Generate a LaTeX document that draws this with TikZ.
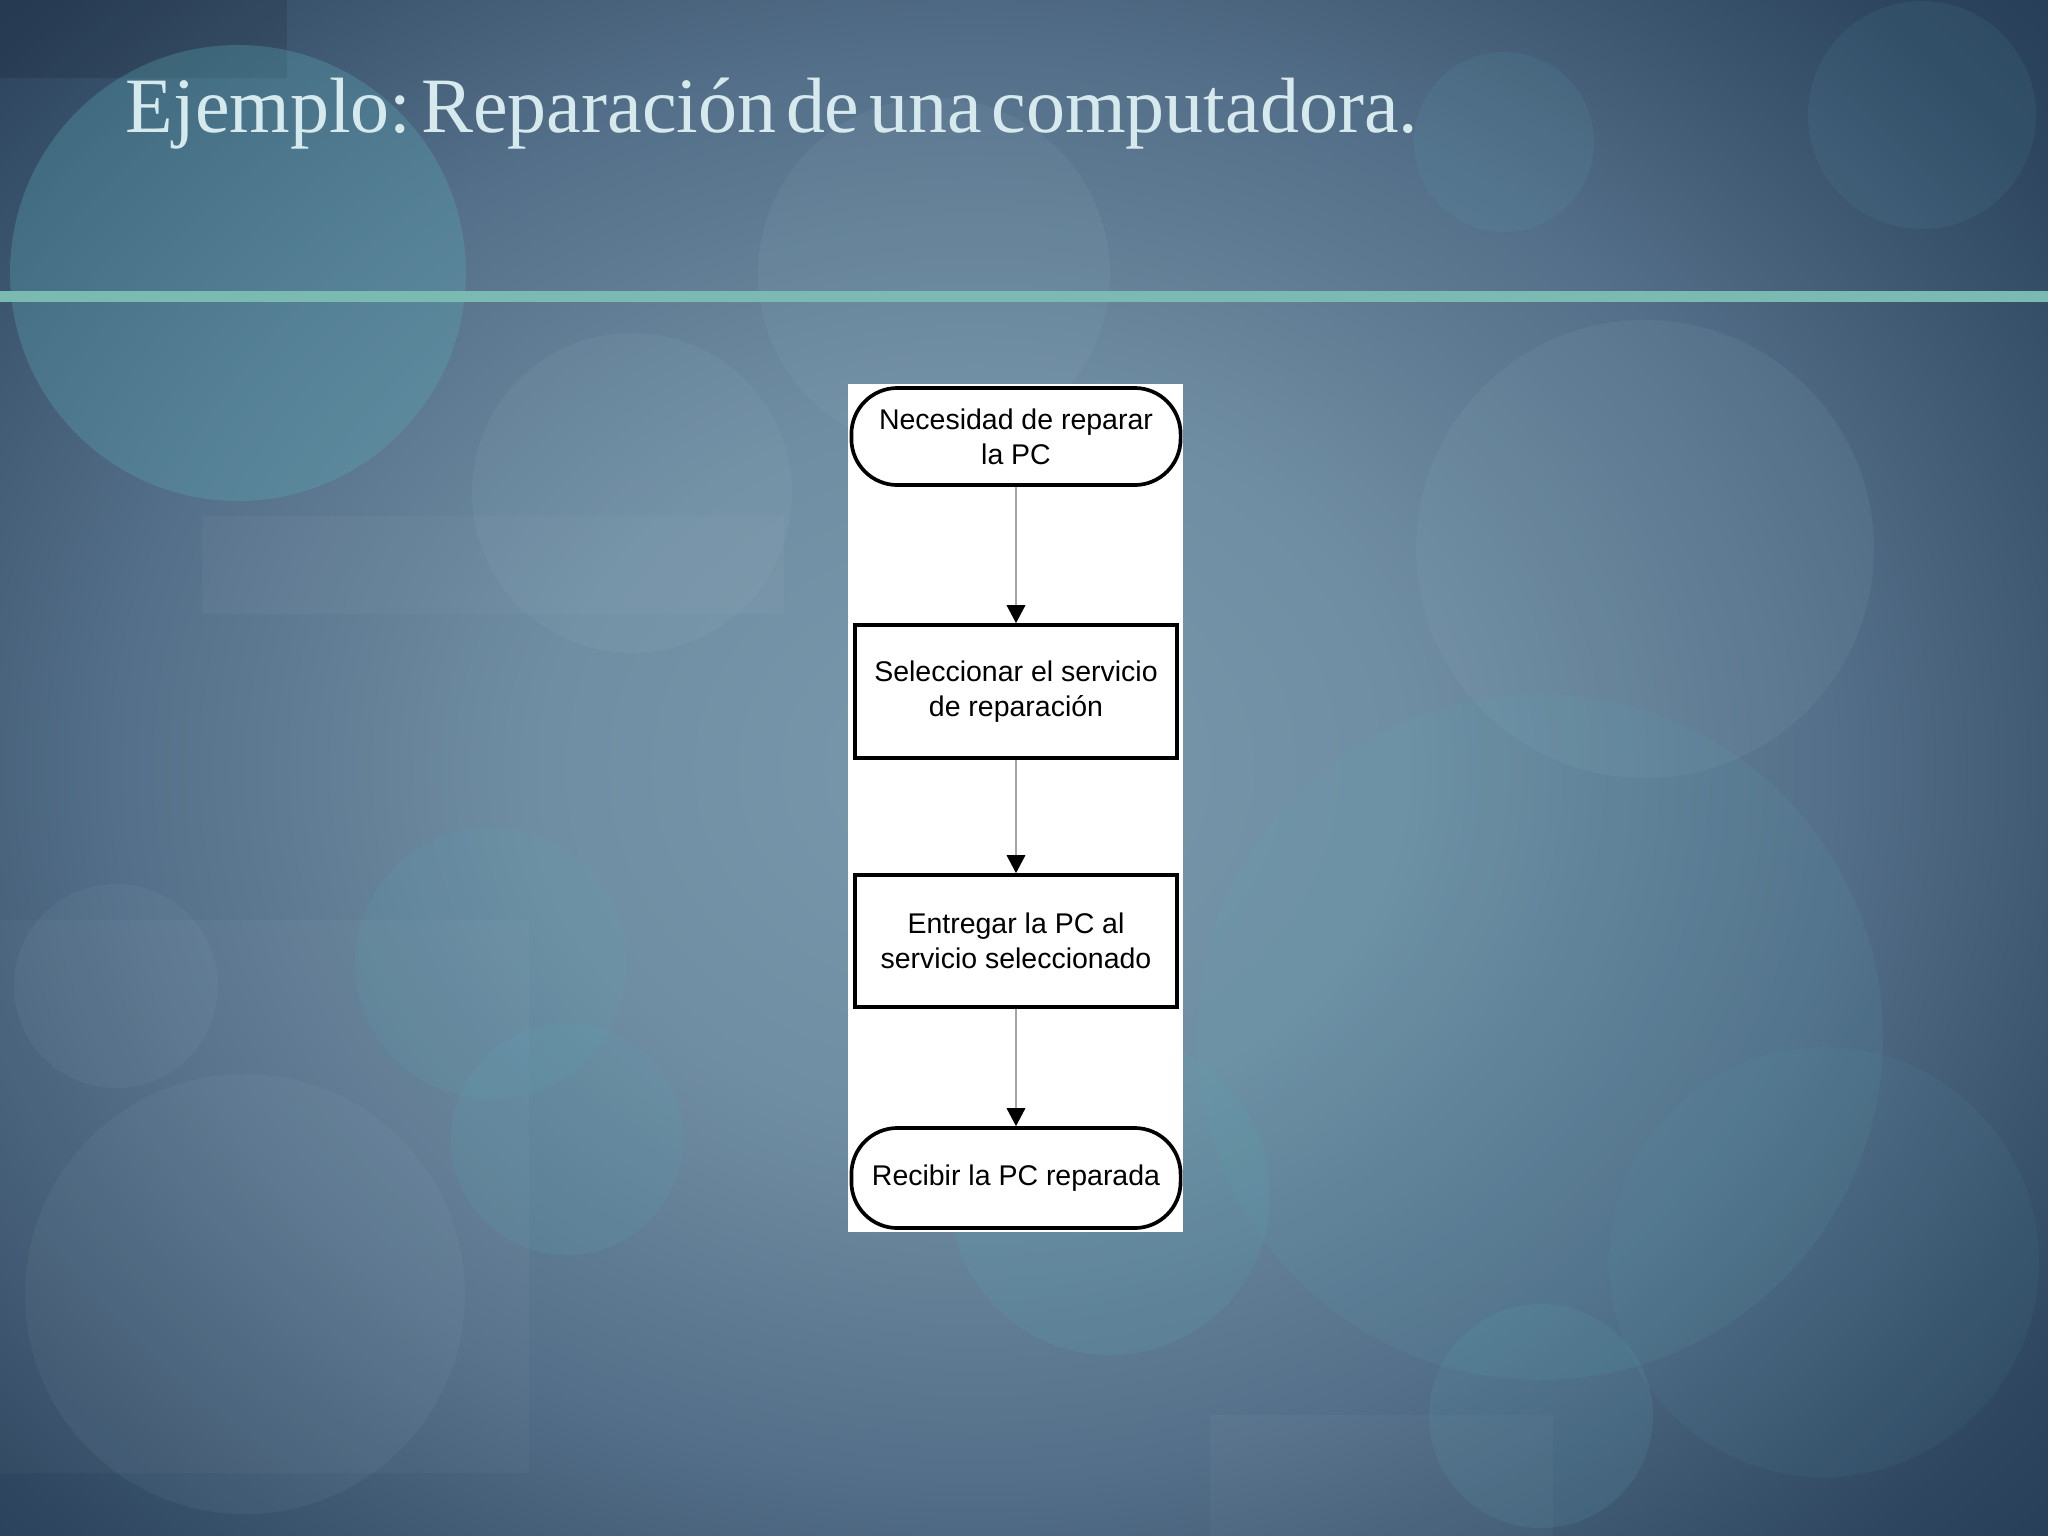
\documentclass[tikz,border=0pt]{standalone}
\usepackage{fontspec}
\setmainfont{Liberation Serif}
\newfontfamily\titlefont[WordSpace=0.5]{Liberation Serif}
\newfontfamily\diagfont{Liberation Sans}
\usetikzlibrary{arrows.meta}

\definecolor{bgcA}{RGB}{122,152,172}
\definecolor{bgcB}{RGB}{112,142,163}
\definecolor{bgcC}{RGB}{84,111,137}
\definecolor{bgcD}{RGB}{46,70,96}
\definecolor{bgcE}{RGB}{26,46,70}
\definecolor{bgcF}{RGB}{16,34,56}
\definecolor{circteal}{RGB}{90,168,180}
\definecolor{circlight}{RGB}{150,185,200}
\definecolor{titlec}{RGB}{214,234,238}
\definecolor{rulec}{RGB}{122,186,178}
\definecolor{connc}{RGB}{165,165,165}

\pgfdeclareradialshading{bgshade}{\pgfpoint{0bp}{0bp}}{%
  color(0bp)=(bgcA); color(10bp)=(bgcB); color(20bp)=(bgcC); color(30bp)=(bgcD); color(40bp)=(bgcE); color(50bp)=(bgcF)}

\tikzset{
  tealcirc/.style={fill=circteal, fill opacity=0.32},
  lightcirc/.style={fill=circlight, fill opacity=0.10},
  faintrect/.style={fill=white, fill opacity=0.03},
  terminal/.style={draw=black, line width=1.05pt, fill=white, rounded corners=0.46cm,
    minimum width=3.29cm, inner sep=0pt, align=center,
    font=\diagfont\fontsize{8.1}{10}\selectfont},
  process/.style={draw=black, line width=1.05pt, fill=white,
    minimum width=3.22cm, inner sep=0pt, align=center,
    font=\diagfont\fontsize{8.1}{10}\selectfont},
  conn/.style={draw=connc, line width=0.35pt,
    -{Triangle[length=5.1pt,width=5.3pt,color=black,fill=black]}}
}

\begin{document}
\begin{tikzpicture}[x=0.01cm,y=-0.01cm]
\useasboundingbox (0,0) rectangle (2048,1536);
\begin{scope}
\clip (0,0) rectangle (2048,1536);
\shade[shading=bgshade] (-100,-120) rectangle (2048,1656);
\end{scope}

% faint rectangles
\fill[black, fill opacity=0.12] (0,0) rectangle (287,78);
\fill[faintrect] (202,516) rectangle (784,614);
\fill[faintrect] (0,920) rectangle (529,990);
\fill[faintrect] (0,990) rectangle (529,1473);
\fill[faintrect] (1210,1415) rectangle (1553,1536);

% circles
\fill[tealcirc] (238,273) circle[radius=228];
\fill[lightcirc] (632,493) circle[radius=160];
\fill[lightcirc] (934,274) circle[radius=176];
\fill[tealcirc, fill opacity=0.12] (1504,142) circle[radius=90];
\fill[tealcirc, fill opacity=0.10] (1922,115) circle[radius=114];
\fill[lightcirc] (1645,549) circle[radius=229];
\fill[tealcirc, fill opacity=0.12] (1540,1037) circle[radius=343];
\fill[tealcirc, fill opacity=0.08] (1824,1262) circle[radius=215];
\fill[tealcirc, fill opacity=0.14] (1541,1416) circle[radius=112];
\fill[lightcirc, fill opacity=0.08] (116,986) circle[radius=102];
\fill[tealcirc, fill opacity=0.14] (491,963) circle[radius=136];
\fill[tealcirc, fill opacity=0.16] (567,1139) circle[radius=116];
\fill[lightcirc, fill opacity=0.08] (245,1294) circle[radius=220];
\fill[tealcirc, fill opacity=0.18] (1110,1195) circle[radius=160];

% title and rule
\node[anchor=base west, text=titlec, inner sep=0pt] (title) at (125,132)
  {\scalebox{0.994}[1]{\frenchspacing\titlefont\fontsize{22.3}{26}\selectfont Ejemplo: Reparación de una computadora.}};
\fill[rulec] (0,291) rectangle (2048,302);

% white panel
\fill[white] (848,384) rectangle (1183,1232);

% flowchart
\node[terminal, minimum height=0.97cm] (n1) at (1016,436.5) {Necesidad de reparar\\la PC};
\node[process, minimum height=1.33cm] (n2) at (1016,691.5) {Seleccionar el servicio\\de reparación};
\node[process, minimum height=1.32cm] (n3) at (1016,941) {Entregar la PC al\\servicio seleccionado};
\node[terminal, minimum height=1.00cm] (n4) at (1016,1178) {Recibir la PC reparada};

\draw[conn] (n1.south) -- (n2.north);
\draw[conn] (n2.south) -- (n3.north);
\draw[conn] (n3.south) -- (n4.north);
\end{tikzpicture}
\end{document}
